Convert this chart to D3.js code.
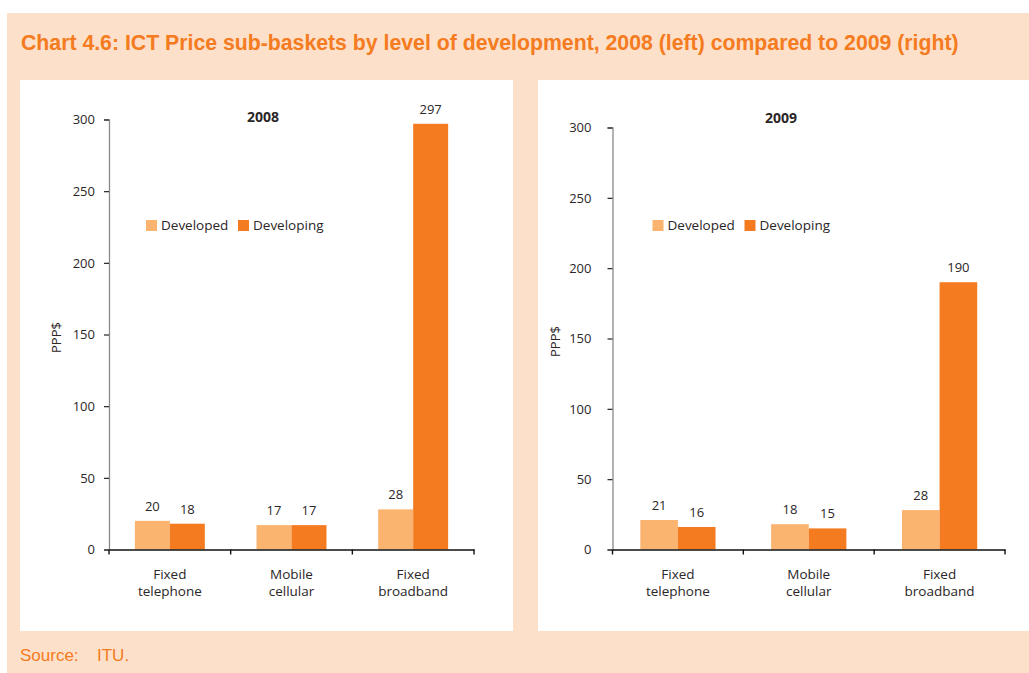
<!DOCTYPE html>
<html>
<head>
<meta charset="utf-8">
<script src="https://cdn.jsdelivr.net/npm/d3@7/dist/d3.min.js"></script>
<style>
  html, body { margin: 0; padding: 0; background: #ffffff; }
  svg { display: block; }
</style>
</head>
<body>
<svg id="chart" width="1029" height="673"></svg>
<script>
// ---- Data -------------------------------------------------------------
const categories = ["Fixed telephone", "Mobile cellular", "Fixed broadband"];
const categoryLines = [["Fixed", "telephone"], ["Mobile", "cellular"], ["Fixed", "broadband"]];
const seriesNames = ["Developed", "Developing"];

const developed2008 = [20, 17, 28];
const developing2008 = [18, 17, 297];
const developed2009 = [21, 18, 28];
const developing2009 = [16, 15, 190];

const yTicks = [0, 50, 100, 150, 200, 250, 300];
const yMax = 300;

// ---- Styling ----------------------------------------------------------
const colors = { Developed: "#FBB46F", Developing: "#F47B20" };
const peach = "#FDE0C9";
const orangeText = "#F47B20";
const darkText = "#2b2627";
const bodyFont = "'Open Sans', 'Noto Sans', sans-serif";
const narrowFont = "'Liberation Sans Narrow', 'Arial Narrow', 'Liberation Sans', sans-serif";

const svg = d3.select("#chart");

// Background panel
svg.append("rect")
  .attr("x", 7).attr("y", 13).attr("width", 1022).attr("height", 660)
  .attr("fill", peach);

// Heading, sized so that it spans the intended width
const heading = svg.append("text")
  .attr("x", 21).attr("y", 50)
  .attr("font-family", narrowFont)
  .attr("font-weight", "bold")
  .attr("font-size", 23)
  .attr("fill", orangeText)
  .text("Chart 4.6: ICT Price sub-baskets by level of development, 2008 (left) compared to 2009 (right)");
const headingWidth = heading.node().getComputedTextLength();
if (headingWidth > 0) {
  const fitted = Math.min(23, 23 * 938 / headingWidth);
  heading.attr("font-size", fitted.toFixed(2));
}

// Source line
svg.append("text")
  .attr("x", 20).attr("y", 661)
  .attr("font-family", narrowFont)
  .attr("font-size", 17)
  .attr("fill", orangeText)
  .text("Source:");
svg.append("text")
  .attr("x", 97).attr("y", 661)
  .attr("font-family", narrowFont)
  .attr("font-size", 17)
  .attr("fill", orangeText)
  .text("ITU.");

// ---- Panels -----------------------------------------------------------
const panels = [
  {
    year: "2008",
    developed: developed2008, developing: developing2008,
    box: { x: 20, y: 80, w: 493, h: 551 },
    plot: { x0: 109, x1: 474, yTop: 119.5, yBottom: 549.5 },
    titleX: 263, titleY: 122,
    legendX: 146, legendY: 220,
    yLabelX: 61, tickLabelGap: 14
  },
  {
    year: "2009",
    developed: developed2009, developing: developing2009,
    box: { x: 538, y: 80, w: 491, h: 551 },
    plot: { x0: 612.5, x1: 1005, yTop: 127.5, yBottom: 549.5 },
    titleX: 781, titleY: 123,
    legendX: 652.5, legendY: 220,
    yLabelX: 560, tickLabelGap: 21
  }
];

panels.forEach(p => {
  const g = svg.append("g");

  g.append("rect")
    .attr("x", p.box.x).attr("y", p.box.y)
    .attr("width", p.box.w).attr("height", p.box.h)
    .attr("fill", "#ffffff");

  const x = d3.scaleBand()
    .domain(categories)
    .range([p.plot.x0, p.plot.x1])
    .paddingInner(0).paddingOuter(0);

  const groupWidth = x.bandwidth() * 0.575;
  const xInner = d3.scaleBand()
    .domain(seriesNames)
    .range([0, groupWidth])
    .padding(0);

  const y = d3.scaleLinear()
    .domain([0, yMax])
    .range([p.plot.yBottom, p.plot.yTop]);

  const rows = categories.map((c, i) => ({
    category: c,
    values: [
      { series: "Developed", value: p.developed[i] },
      { series: "Developing", value: p.developing[i] }
    ]
  }));

  // Bars
  const groups = g.selectAll("g.cat")
    .data(rows)
    .join("g")
    .attr("class", "cat")
    .attr("transform", d => `translate(${x(d.category) + (x.bandwidth() - groupWidth) / 2},0)`);

  groups.selectAll("rect")
    .data(d => d.values)
    .join("rect")
    .attr("x", d => xInner(d.series))
    .attr("y", d => y(d.value))
    .attr("width", xInner.bandwidth())
    .attr("height", d => y(0) - y(d.value))
    .attr("fill", d => colors[d.series]);

  // Value labels
  groups.selectAll("text.val")
    .data(d => d.values)
    .join("text")
    .attr("class", "val")
    .attr("x", d => xInner(d.series) + xInner.bandwidth() / 2)
    .attr("y", d => y(d.value) - 10)
    .attr("text-anchor", "middle")
    .attr("font-family", bodyFont)
    .attr("font-size", 13)
    .attr("fill", darkText)
    .text(d => d.value);

  // Y axis
  const yAxis = d3.axisLeft(y)
    .tickValues(yTicks)
    .tickSize(5)
    .tickPadding(p.tickLabelGap - 5)
    .tickFormat(d3.format("d"));
  const yg = g.append("g")
    .attr("transform", `translate(${p.plot.x0},0)`)
    .call(yAxis);
  yg.select(".domain").attr("stroke", "#8a8a8a").attr("stroke-width", 1.3);
  yg.selectAll(".tick line").attr("stroke", "#222").attr("stroke-width", 1.2);
  yg.selectAll(".tick text")
    .attr("font-family", bodyFont)
    .attr("font-size", 13)
    .attr("fill", darkText);

  // X axis
  const xAxis = d3.axisBottom(x)
    .tickValues([])
    .tickSizeOuter(0);
  const xg = g.append("g")
    .attr("transform", `translate(0,${p.plot.yBottom})`)
    .call(xAxis);
  xg.select(".domain").attr("stroke", "#111").attr("stroke-width", 1.4);
  // Category separators
  const edges = categories.map(c => x(c)).concat([x.range()[1]]);
  xg.selectAll("line.sep")
    .data(edges)
    .join("line")
    .attr("class", "sep")
    .attr("x1", d => d).attr("x2", d => d)
    .attr("y1", 0).attr("y2", 5)
    .attr("stroke", "#111").attr("stroke-width", 1.4);

  // Category labels
  const labels = g.selectAll("text.cat")
    .data(categories)
    .join("text")
    .attr("class", "cat")
    .attr("text-anchor", "middle")
    .attr("font-family", bodyFont)
    .attr("font-size", 13.5)
    .attr("fill", darkText);
  labels.selectAll("tspan")
    .data((d, i) => categoryLines[i].map(line => ({ line, cx: x(d) + x.bandwidth() / 2 })))
    .join("tspan")
    .attr("x", d => d.cx)
    .attr("y", (d, j) => p.plot.yBottom + 29 + j * 17)
    .text(d => d.line);

  // Panel title
  g.append("text")
    .attr("x", p.titleX).attr("y", p.titleY)
    .attr("text-anchor", "middle")
    .attr("font-family", bodyFont)
    .attr("font-weight", "bold")
    .attr("font-size", 14)
    .attr("fill", darkText)
    .text(p.year);

  // Y axis label
  g.append("text")
    .attr("transform", `translate(${p.yLabelX},${(p.plot.yTop + p.plot.yBottom) / 2 + 3}) rotate(-90)`)
    .attr("text-anchor", "middle")
    .attr("font-family", bodyFont)
    .attr("font-size", 13)
    .attr("fill", darkText)
    .text("PPP$");

  // Legend
  const legend = g.append("g")
    .attr("transform", `translate(${p.legendX},${p.legendY})`);
  const legendOffsets = [0, 92];
  seriesNames.forEach((s, i) => {
    legend.append("rect")
      .attr("x", legendOffsets[i]).attr("y", 0)
      .attr("width", 11).attr("height", 11)
      .attr("fill", colors[s]);
    legend.append("text")
      .attr("x", legendOffsets[i] + 15).attr("y", 10)
      .attr("font-family", bodyFont)
      .attr("font-size", 13.5)
      .attr("fill", darkText)
      .text(s);
  });
});
</script>
</body>
</html>
